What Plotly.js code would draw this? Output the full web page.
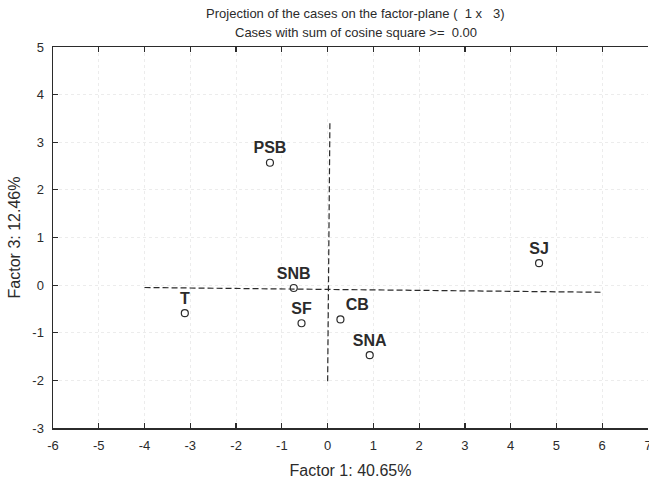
<!DOCTYPE html>
<html>
<head>
<meta charset="utf-8">
<script src="https://cdn.plot.ly/plotly-3.0.1.min.js"></script>
<style>html,body{margin:0;padding:0;background:#fff;}#chart{width:649px;height:481px;}</style>
</head>
<body>
<div id="chart"></div>
<script>
// Case labels and coordinates on the factor plane (Factor 1 x Factor 3)
const cases = ["PSB", "SNB", "T", "SF", "CB", "SNA", "SJ"];
const factor1 = [-1.26, -0.74, -3.12, -0.57, 0.28, 0.92, 4.62];
const factor3 = [2.57, -0.06, -0.59, -0.80, -0.72, -1.47, 0.46];

// Dashed reference axes drawn inside the plot
const hLineX = [-4, 6];
const hLineY = [-0.05, -0.15];
const vLineX = [0.05, 0.0];
const vLineY = [3.4, -2.08];

const xTicks = [-6, -5, -4, -3, -2, -1, 0, 1, 2, 3, 4, 5, 6, 7];
const yTicks = [-3, -2, -1, 0, 1, 2, 3, 4, 5];

const ink = "#2b2b2b";
const font = "Arial, 'Liberation Sans', sans-serif";

const labelPos = cases.map(c => c === "CB" ? "top right" : "top center");

const traces = [
  {x: hLineX, y: hLineY, mode: "lines", line: {color: ink, width: 1.2, dash: "6px,3px"}, hoverinfo: "skip", showlegend: false},
  {x: vLineX, y: vLineY, mode: "lines", line: {color: ink, width: 1.2, dash: "6px,3px"}, hoverinfo: "skip", showlegend: false},
  {
    x: factor1, y: factor3, text: cases,
    mode: "markers+text", textposition: labelPos,
    textfont: {family: font, size: 16, color: ink, weight: "bold"},
    marker: {symbol: "circle-open", size: 7, color: ink, line: {width: 1.2, color: ink}},
    showlegend: false
  }
];

const layout = {
  width: 649, height: 481,
  margin: {l: 53, r: 1, t: 47, b: 53},
  paper_bgcolor: "#ffffff", plot_bgcolor: "#ffffff",
  font: {family: font, color: ink, size: 12},
  title: {
    text: "Projection of the cases on the factor-plane (  1 x   3)",
    font: {family: font, size: 13, color: ink},
    x: 0.508, xanchor: "center", xref: "paper",
    y: 0.971, yanchor: "middle", yref: "container"
  },
  annotations: [{
    text: "Cases with sum of cosine square >=  0.00",
    font: {family: font, size: 13, color: ink},
    xref: "paper", yref: "paper", x: 0.51, y: 1.037,
    xanchor: "center", yanchor: "middle", showarrow: false
  }],
  xaxis: {
    range: [-6, 7], tickvals: xTicks, ticktext: xTicks.map(String),
    showline: true, linecolor: ink, linewidth: 1.5, mirror: "ticks",
    ticks: "inside", ticklen: 5, tickcolor: ink, tickwidth: 1.2,
    showgrid: true, gridcolor: "#ececec", griddash: "dot", gridwidth: 1,
    zeroline: false, ticklabeloverflow: "allow",
    tickfont: {family: font, size: 13, color: ink},
    ticklabelstandoff: 5,
    title: {text: "Factor 1: 40.65%", font: {family: font, size: 16, color: ink}, standoff: 12}
  },
  yaxis: {
    range: [-3, 5], tickvals: yTicks, ticktext: yTicks.map(String),
    showline: true, linecolor: ink, linewidth: 1.5,
    ticks: "inside", ticklen: 5, tickcolor: ink, tickwidth: 1.2,
    showgrid: true, gridcolor: "#ececec", griddash: "dot", gridwidth: 1,
    zeroline: false, ticklabeloverflow: "allow",
    tickfont: {family: font, size: 13, color: ink},
    ticklabelstandoff: 5,
    title: {text: "Factor 3: 12.46%", font: {family: font, size: 16, color: ink}, standoff: 7}
  }
};

Plotly.newPlot("chart", traces, layout, {displayModeBar: false, staticPlot: true});
</script>
</body>
</html>
